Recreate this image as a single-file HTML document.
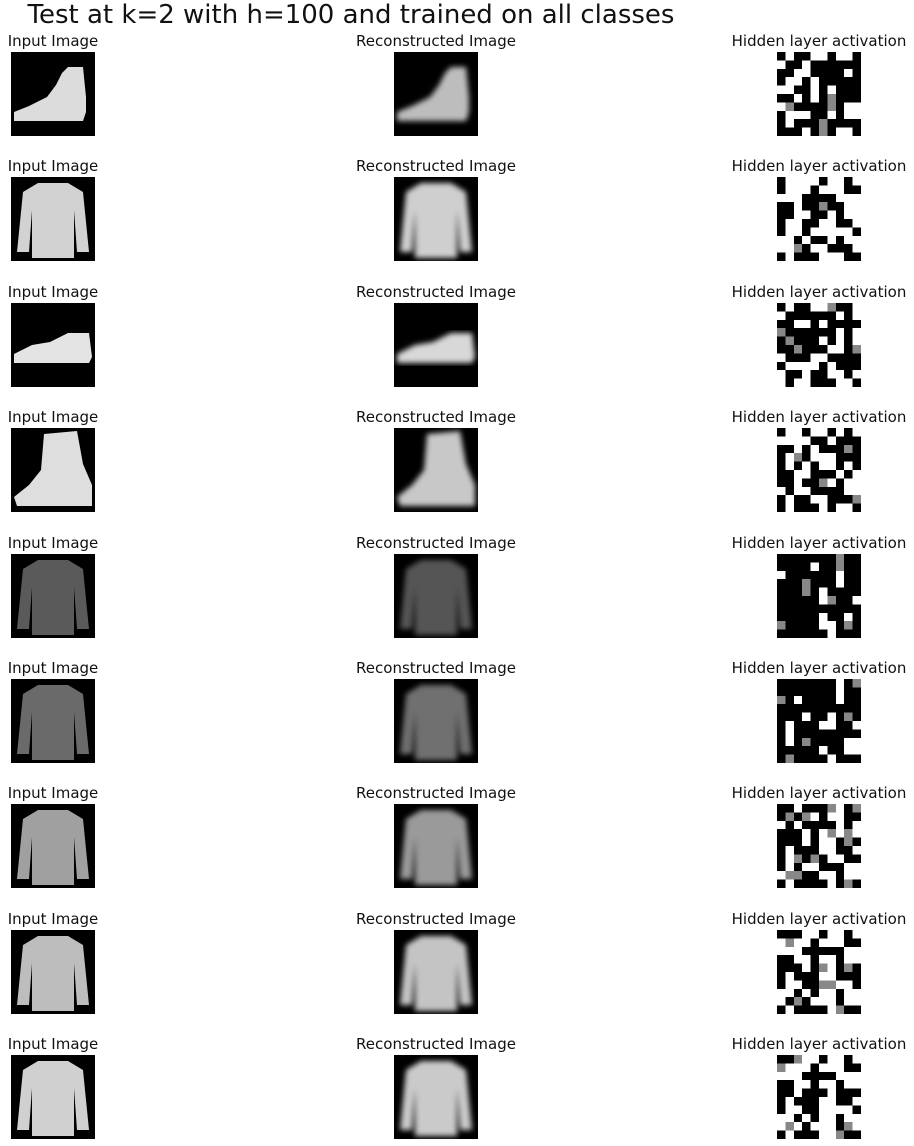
<!DOCTYPE html>
<html><head><meta charset="utf-8">
<style>
body{margin:0;background:#fff;width:914px;height:1146px;overflow:hidden;font-family:"DejaVu Sans","Liberation Sans",sans-serif;}
#title{position:absolute;top:0px;left:0px;width:702px;text-align:center;font-size:26px;color:#111;white-space:nowrap;}
.lbl{position:absolute;font-size:15px;color:#111;text-align:center;width:260px;white-space:nowrap;}
svg.im{position:absolute;width:84px;height:84px;}
</style></head><body>
<div id="title">Test at k=2 with h=100 and trained on all classes</div>
<div id="root"></div>
<svg width="0" height="0" style="position:absolute"><defs><filter id="bl"><feGaussianBlur stdDeviation="0.9"/></filter></defs></svg>
<script>
const rowShapes=["boot","shirt","sneaker","tallboot","shirt","shirt","shirt","shirt","shirt"];
const rowColors=["#dcdcdc","#d2d2d2","#e4e4e4","#dedede","#5a5a5a","#6a6a6a","#a0a0a0","#bdbdbd","#d0d0d0"];
const reconColors=["#bdbdbd","#cfcfcf","#d8d8d8","#c8c8c8","#555","#707070","#9a9a9a","#c4c4c4","#cacaca"];
const hidden=[
["0100110110","1001000000","0011000010","0110100000","1100101000","0010106000","1600006011","0111001011","0100060000","0001060110"],
["0111101101","0111011100","1110000111","0010060011","0011001011","0110011001","0110111110","1101001011","1160110001","0100011100"],
["0100116001","1000000101","0011010000","6000000101","0600010101","0060001106","1000110000","0111101000","1001001101","1011000110"],
["0110110101","1111001000","0010100060","0160111000","0101011010","0011000101","0010061011","1011000011","0100110006","0100010110"],
["0000000600","0000100600","1000000100","0006000100","0006010000","0000016001","0000000000","0000010010","6000011060","0000001000"],
["0000000106","0000000100","6010000100","0000000000","0001001060","0100011001","0100000000","0106000011","0000010011","0600001000"],
["0010006106","0606101100","1010000101","0001016161","0001011060","0100011001","0160601100","0101100011","1660011011","0100001060"],
["0001101101","1611011100","1110000011","0011011011","0001061060","0100011000","0110066110","1101011011","1060111011","0100001600"],
["0061101101","6111011100","1110000111","0011011011","0010001000","0100011001","0110011110","1101011011","1610111061","0100011600"]];
const shapes={
boot:"1,20 6,18 12,15 15,11 17,7 19,5 24,5 25,15 25,20 24,23 1,23",
shirt:"9,2 19,2 24,5 26,25 22,25 21,11 21,27 7,27 7,11 6,25 2,25 4,5",
sneaker:"1,17 7,14 13,13 19,10 26,10 27,18 26,20 1,20",
tallboot:"1,23 6,19 10,14 11,2 22,1 24,12 27,19 27,26 2,26"};
const root=document.getElementById('root');
const pitch=125.4;
const NS="http://www.w3.org/2000/svg";
function label(txt,cx,y,name){const d=document.createElement('div');d.className='lbl';d.textContent=txt;d.style.left=(cx-130)+'px';d.style.top=y+'px';


root.appendChild(d);}
function clothing(x,y,shape,col,blur,name){const s=document.createElementNS(NS,'svg');s.setAttribute('class','im');s.setAttribute('viewBox','0 0 28 28');s.style.left=x+'px';s.style.top=y+'px';


s.innerHTML='<rect width="28" height="28" fill="#000"/><polygon points="'+shapes[shape]+'" fill="'+col+'"'+(blur?' filter="url(#bl)"':'')+'/>';root.appendChild(s);}
for(let r=0;r<9;r++){
 const top=52+r*pitch;
 label('Input Image',53,top-20,'input-title-'+(r+1));
 label('Reconstructed Image',436,top-20,'reconstructed-title-'+(r+1));
 label('Hidden layer activation',819,top-20,'hidden-title-'+(r+1));
 clothing(11,top,rowShapes[r],rowColors[r],false,'input-image-'+(r+1));
 clothing(394,top,rowShapes[r],reconColors[r],true,'reconstructed-image-'+(r+1));
 const s=document.createElementNS(NS,'svg');s.setAttribute('class','im');s.setAttribute('viewBox','0 0 10 10');s.setAttribute('shape-rendering','crispEdges');
 s.style.left='777px';s.style.top=top+'px';
 
 
 let h='';
 for(let i=0;i<10;i++)for(let j=0;j<10;j++){const c=hidden[r][i][j];const f=c==='1'?'#fff':c==='0'?'#000':'#888';h+='<rect x="'+j+'" y="'+i+'" width="1.02" height="1.02" fill="'+f+'"/>';}
 s.innerHTML=h;root.appendChild(s);
}
</script>
</body></html>
